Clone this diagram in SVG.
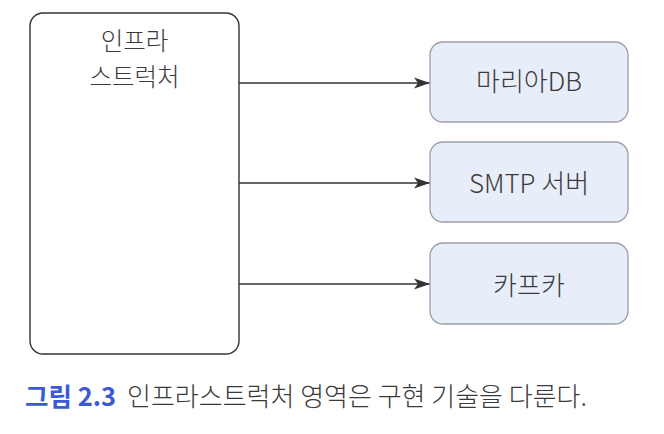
<svg xmlns="http://www.w3.org/2000/svg" width="664" height="434" viewBox="0 0 664 434">
<style>
text { font-family: "Noto Sans CJK KR", "Noto Sans", sans-serif; fill: #3a3a3a; font-weight: 300; }
.main { fill: #ffffff; stroke: #333; stroke-width: 1.4; }
.svc { fill: #e8eef9; stroke: #9c9ea8; stroke-width: 1.3; }
.lbl { font-size: 26px; text-anchor: middle; }
.lbl2 { font-size: 24.5px; text-anchor: middle; }
.conn { stroke: #333; stroke-width: 1.4; fill: none; marker-end: url(#arr); }
.cap { font-size: 26px; }
.capnum { fill: #3b5bd6; font-weight: 700; font-size: 25.5px; }
</style>
<defs>
<marker id="arr" markerUnits="userSpaceOnUse" markerWidth="18" markerHeight="12" refX="16" refY="6" orient="auto">
<path d="M0,0.5 L16,6 L0,11.5 L4,6 z" fill="#333"/>
</marker>
</defs>
<rect width="664" height="434" fill="#ffffff"/>
<g id="connectors">
<line class="conn" x1="239" y1="83" x2="430" y2="83"/>
<line class="conn" x1="239" y1="183" x2="430" y2="183"/>
<line class="conn" x1="239" y1="284" x2="430" y2="284"/>
</g>
<g id="infra">
<rect class="main" x="30" y="13" width="209" height="341" rx="13"/>
<text class="lbl2" x="134.5" y="50">인프라</text>
<text class="lbl2" x="134.5" y="85.5">스트럭처</text>
</g>
<g id="mariadb">
<rect class="svc" x="430" y="42" width="198" height="80" rx="13"/>
<text class="lbl" x="529" y="91">마리아DB</text>
</g>
<g id="smtp">
<rect class="svc" x="430" y="142" width="198" height="80" rx="13"/>
<text class="lbl" x="529" y="193">SMTP 서버</text>
</g>
<g id="kafka">
<rect class="svc" x="430" y="243" width="198" height="81" rx="13"/>
<text class="lbl" x="529" y="295">카프카</text>
</g>
<g id="caption">
<text class="cap" x="25" y="406"><tspan class="capnum">그림 2.3</tspan><tspan x="127">인프라스트럭처 영역은 구현 기술을 다룬다.</tspan></text>
</g>
</svg>
